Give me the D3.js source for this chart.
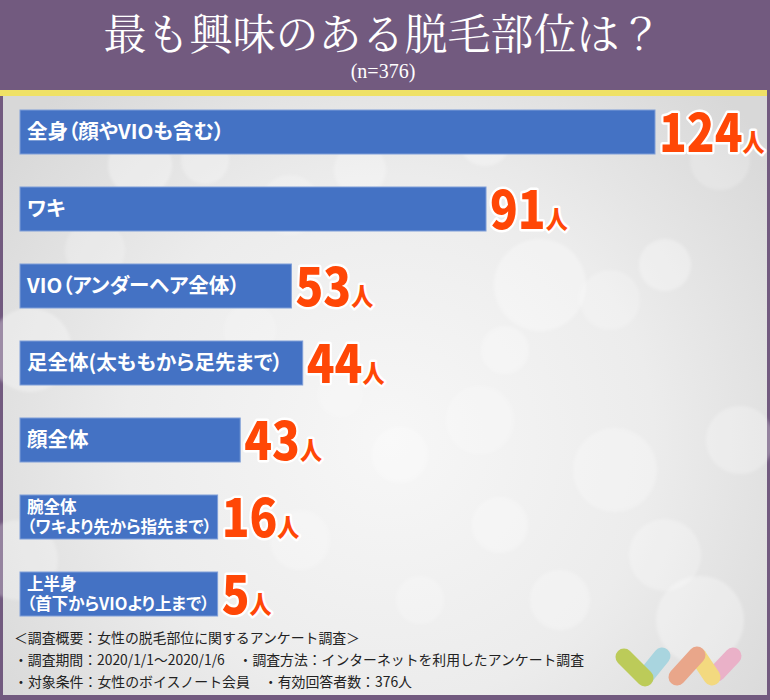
<!DOCTYPE html>
<html><head><meta charset="utf-8">
<script src="https://cdn.jsdelivr.net/npm/d3@7"></script>
<style>html,body{margin:0;padding:0;background:#fff;} svg{display:block;} .lbl{font-feature-settings:"palt" 1;}</style>
</head><body>
<svg id="chart" width="770" height="700"></svg>
<script>
// ---- data ----
const titleText = "最も興味のある脱毛部位は？";
const subtitleText = "(n=376)";
const categories = [
  "全身（顔やVIOも含む）",
  "ワキ",
  "VIO（アンダーヘア全体）",
  "足全体(太ももから足先まで）",
  "顔全体",
  "腕全体\n（ワキより先から指先まで）",
  "上半身\n（首下からVIOより上まで）"
];
const values = [124, 91, 53, 44, 43, 16, 5];
const unitLabel = "人";
const footnotes = [
  "＜調査概要：女性の脱毛部位に関するアンケート調査＞",
  "・調査期間：2020/1/1〜2020/1/6　・調査方法：インターネットを利用したアンケート調査",
  "・対象条件：女性のボイスノート会員　・有効回答者数：376人"
];

// ---- drawing ----
const W = 770, H = 700;
const svg = d3.select("#chart");
const defs = svg.append("defs");
const rg = defs.append("radialGradient").attr("id", "bg")
  .attr("gradientUnits", "userSpaceOnUse")
  .attr("cx", 390).attr("cy", 440).attr("r", 480);
rg.append("stop").attr("offset", "0").attr("stop-color", "#f7f7f7");
rg.append("stop").attr("offset", "0.55").attr("stop-color", "#ececec");
rg.append("stop").attr("offset", "1").attr("stop-color", "#d8d8d8");
const blur = defs.append("filter").attr("id", "soft").attr("x", "-20%").attr("y", "-20%").attr("width", "140%").attr("height", "140%");
blur.append("feGaussianBlur").attr("stdDeviation", 1.5);

svg.append("rect").attr("width", W).attr("height", H).attr("fill", "#725a7f");
svg.append("rect").attr("x", 3).attr("y", 96).attr("width", 764).attr("height", 599).attr("fill", "url(#bg)");
svg.append("rect").attr("x", 0).attr("y", 90).attr("width", 767).attr("height", 6).attr("fill", "#efe166");

// decorative bokeh
const bokeh = [
  [140,165,32,.3],[205,160,24,.25],[290,205,30,.2],[360,170,26,.25],[485,140,26,.3],
  [540,285,46,.3],[505,350,24,.25],[610,300,30,.2],[665,265,26,.3],[480,420,34,.2],
  [400,455,28,.25],[615,470,42,.25],[500,525,28,.25],[665,555,36,.25],[300,540,30,.2],
  [560,600,30,.25],[740,440,34,.25],[30,350,42,.3],[18,560,40,.25],[95,250,30,.2],
  [250,330,26,.15],[720,160,30,.2],[700,620,44,.3],[420,600,24,.2],[340,395,22,.15]
];
svg.append("g").attr("filter", "url(#soft)")
  .selectAll("circle").data(bokeh).join("circle")
  .attr("cx", d => d[0]).attr("cy", d => d[1]).attr("r", d => d[2])
  .attr("fill", "#ffffff").attr("fill-opacity", d => d[3]);

// title
svg.append("text").attr("x", 383).attr("y", 50).attr("text-anchor", "middle")
  .attr("fill", "#ffffff")
  .style("font-family", "'Noto Serif CJK JP','Liberation Serif','Noto Sans CJK JP',serif")
  .style("font-size", "43px").text(titleText);
svg.append("text").attr("x", 383).attr("y", 78).attr("text-anchor", "middle")
  .attr("fill", "#ffffff")
  .style("font-family", "'Liberation Serif',serif")
  .style("font-size", "20px").text(subtitleText);

// scales
const x = d3.scaleLinear().domain([0, d3.max(values)]).range([20, 655]);
const y = d3.scaleBand().domain(d3.range(categories.length))
  .range([93.5, 632.5]).paddingInner(0.4286).paddingOuter(0.2143);
const bw = y.bandwidth();

const barG = svg.append("g");
const labelG = svg.append("g");
const valueG = svg.append("g");
const labelFont = "'Noto Sans CJK JP','Noto Sans',sans-serif";

const needs = [];
categories.forEach((cat, i) => {
  const lines = cat.split("\n");
  const multi = lines.length > 1;
  const fs = multi ? 16.5 : 20.5;
  const lh = 19.5;
  const cy = y(i) + bw / 2;
  let maxW = 0;
  lines.forEach((ln, k) => {
    const t = labelG.append("text").attr("class", "lbl").attr("fill", "#ffffff")
      .attr("x", 27)
      .attr("y", cy + (k - (lines.length - 1) / 2) * lh + fs * 0.36)
      .style("font-family", labelFont).style("font-weight", 700)
      .style("font-size", fs + "px").text(ln);
    maxW = Math.max(maxW, t.node().getComputedTextLength());
  });
  needs.push(27 + maxW + (multi ? 6 : 20));
});

// bar end: value scale, extended to fit labels (adjacent label-driven rows share width)
const ends = values.map(v => x(v));
let i = 0;
while (i < values.length) {
  if (needs[i] > x(values[i])) {
    let j = i, m = 0;
    while (j < values.length && needs[j] > x(values[j])) { m = Math.max(m, needs[j]); j++; }
    for (let k = i; k < j; k++) ends[k] = m;
    i = j;
  } else i++;
}

barG.selectAll("rect").data(values).join("rect")
  .attr("x", x(0)).attr("y", (d, k) => y(k))
  .attr("width", (d, k) => ends[k] - x(0)).attr("height", bw)
  .attr("fill", "#4472c4").attr("stroke", "#7e9ed8").attr("stroke-width", 1);

values.forEach((v, k) => {
  const g = valueG.append("g")
    .attr("transform", `translate(${ends[k] + 4},${y(k) + bw - 2}) scale(0.88,1)`);
  const t = g.append("text").attr("x", 0).attr("y", 0)
    .attr("fill", "#ff4706").attr("stroke", "#ffffff").attr("stroke-width", 5)
    .attr("stroke-linejoin", "round").attr("paint-order", "stroke")
    .style("font-family", labelFont).style("font-weight", 900);
  t.append("tspan").style("font-size", "52px").text(v);
  t.append("tspan").style("font-size", "25px").text(unitLabel);
});

// footnotes
const fnWidths = [346, 570, 398];
svg.append("g").selectAll("text").data(footnotes).join("text")
  .attr("x", 14).attr("y", (d, k) => 643 + k * 22)
  .attr("textLength", (d, k) => fnWidths[k]).attr("lengthAdjust", "spacingAndGlyphs")
  .attr("fill", "#222222")
  .style("font-family", labelFont).style("font-size", "14px").text(d => d);

// logo
const logo = [
  [645,677,662,656,"#a9d5df"],
  [624,657,645,678,"#bccb59"],
  [717,673,733,656,"#eab1c8"],
  [698,656,712,677,"#f3d97f"],
  [677,677,697,655,"#e9a68a"]
];
svg.append("g").selectAll("line").data(logo).join("line")
  .attr("x1", d => d[0]).attr("y1", d => d[1]).attr("x2", d => d[2]).attr("y2", d => d[3])
  .attr("stroke", d => d[4]).attr("stroke-width", 17).attr("stroke-linecap", "round");
</script>
</body></html>
